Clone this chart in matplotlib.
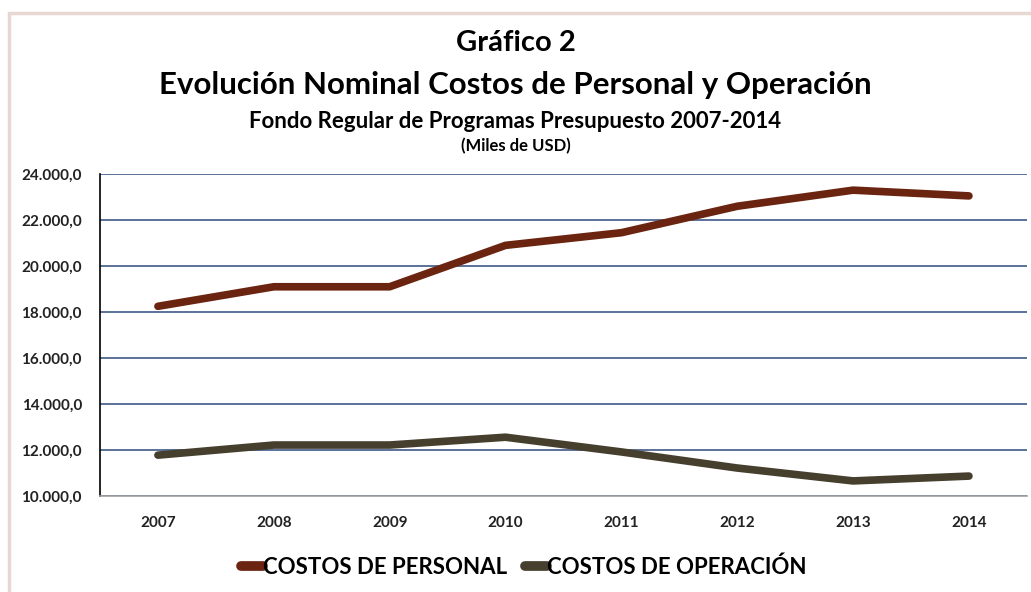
import matplotlib.pyplot as plt
from matplotlib.patches import Rectangle
from matplotlib.ticker import FuncFormatter

# Data (miles de USD)
years = ['2007', '2008', '2009', '2010', '2011', '2012', '2013', '2014']
costos_personal = [18250, 19100, 19100, 20900, 21450, 22600, 23300, 23050]
costos_operacion = [11780, 12220, 12220, 12560, 11920, 11220, 10660, 10870]

plt.rcParams['font.family'] = ['Lato', 'DejaVu Sans']

fig = plt.figure(figsize=(10.31, 5.92), dpi=100)
ax = fig.add_axes([0.097, 0.162, 0.899, 0.544])

x = range(len(years))
ax.plot(x, costos_personal, color='#6B2410', lw=5.5, solid_capstyle='round',
        label='COSTOS DE PERSONAL', zorder=3)
ax.plot(x, costos_operacion, color='#463F2E', lw=5.5, solid_capstyle='round',
        label='COSTOS DE OPERACIÓN', zorder=3)

ax.set_xlim(-0.5, len(years) - 0.5)
ax.set_ylim(10000, 24000)
ax.set_yticks(range(10000, 24001, 2000))
ax.set_xticks(list(x))
ax.set_xticklabels(years)

def fmt(v, pos):
    return f'{int(v):,}'.replace(',', '.') + ',0'

ax.yaxis.set_major_formatter(FuncFormatter(fmt))
ax.yaxis.grid(True, color='#2E4A7D', lw=1.1)
ax.set_axisbelow(True)
for s in ['top', 'right']:
    ax.spines[s].set_visible(False)
ax.spines['left'].set_color('black')
ax.spines['left'].set_linewidth(1.2)
ax.spines['bottom'].set_color('#A0A0A0')
ax.spines['bottom'].set_linewidth(1.2)
ax.tick_params(axis='both', length=0, labelsize=11)
ax.tick_params(axis='y', pad=13)
ax.tick_params(axis='x', pad=14)
for lab in ax.get_xticklabels() + ax.get_yticklabels():
    lab.set_fontweight('bold')
    lab.set_color('#222222')

fig.text(0.5, 0.928, 'Gráfico 2', ha='center', va='center', fontsize=21, fontweight='bold')
fig.text(0.5, 0.857, 'Evolución Nominal Costos de Personal y Operación', ha='center',
         va='center', fontsize=22.5, fontweight='bold')
fig.text(0.5, 0.795, 'Fondo Regular de Programas Presupuesto 2007-2014', ha='center',
         va='center', fontsize=16, fontweight='bold')
fig.text(0.5, 0.754, '(Miles de USD)', ha='center', va='center', fontsize=12, fontweight='bold')

leg = fig.legend(loc='center', bbox_to_anchor=(0.508, 0.042), ncol=2, frameon=False,
                 handlelength=1.0, handletextpad=0.0, columnspacing=0.8,
                 prop={'size': 16, 'weight': 'bold'})
for h in leg.legend_handles:
    h.set_linewidth(7)

# chart border
fig.patches.append(Rectangle((0.009, -0.01), 1.0, 0.988, transform=fig.transFigure,
                             fill=False, edgecolor='#E8D8D4', lw=2.5))

fig.savefig('out.png', dpi=100)
